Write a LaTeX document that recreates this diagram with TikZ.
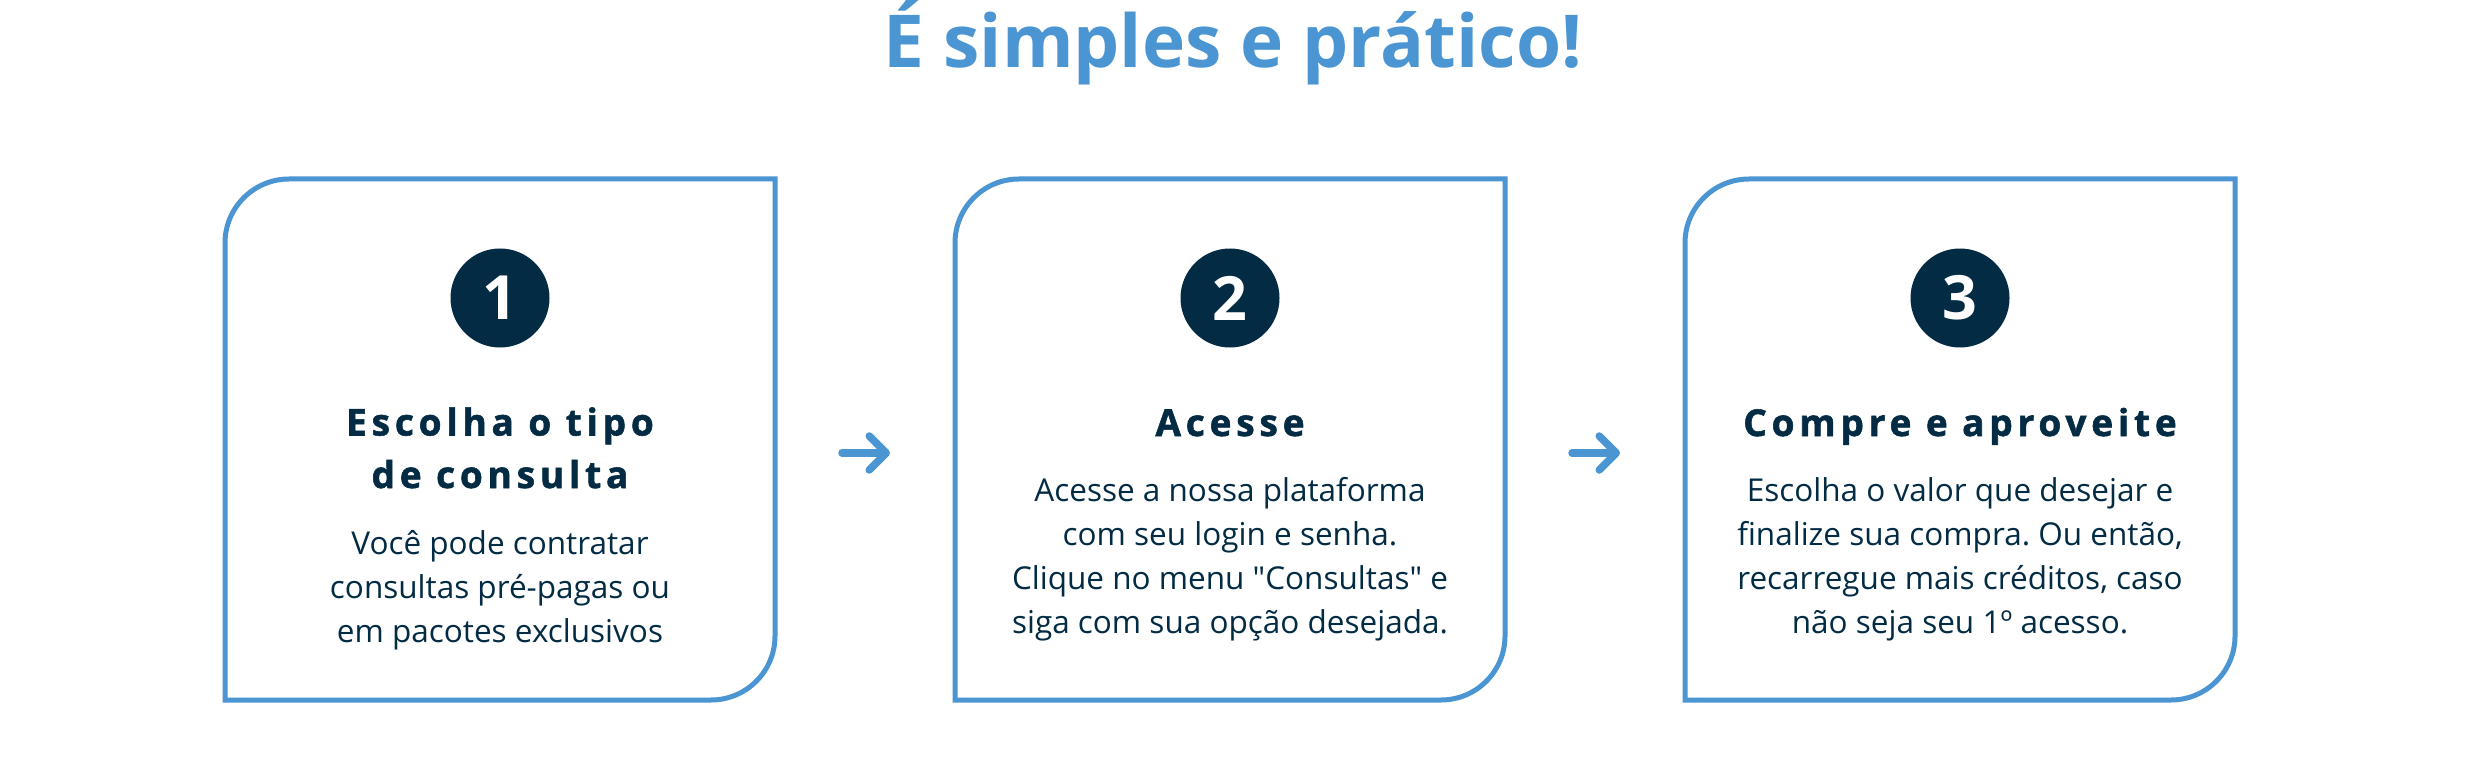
\documentclass[tikz,border=0pt]{standalone}
\usepackage{fontspec}
\setmainfont{Open Sans}[Ligatures=TeXOff]
\usepackage{tikz}
\usetikzlibrary{arrows.meta,positioning}
\newfontfamily\headfont{Open Sans}[LetterSpace=13, BoldFeatures={FakeBold=1.5}]
\definecolor{StepBlue}{RGB}{75,150,210}
\definecolor{StepNavy}{RGB}{3,44,68}
\frenchspacing

\begin{document}
\begin{tikzpicture}[
    x=1pt, y=1pt,
    node distance=180pt,
    card/.style={minimum width=550pt, minimum height=521pt, inner sep=0pt, outer sep=0pt},
    cardline/.style={draw=StepBlue, line width=5pt},
    numdot/.style={circle, fill=StepNavy, text=white, minimum size=99pt, inner sep=0pt, font=\fontsize{61}{61}\selectfont\bfseries},
    heading/.style={anchor=base, align=center, text=StepNavy, inner sep=0pt, font=\headfont\fontsize{37}{52.5}\selectfont\bfseries},
    bodytext/.style={anchor=base, align=center, text=StepNavy, inner sep=0pt, font=\fontsize{31.5}{44}\selectfont},
    title/.style={anchor=base, text=StepBlue, inner sep=0pt, font=\fontsize{73}{80}\selectfont\bfseries},
    flow/.style={StepBlue, line width=7.5pt, line cap=round, -{Straight Barb[length=17pt, width=34pt, round]}, shorten <=67pt, shorten >=65pt}
]
    \fill[white] (0,0) rectangle (2470,-767);
    \useasboundingbox (0,0) rectangle (2470,-767);

    \node[title] (title) at (1233,-68) {É simples e prático!};

    \node[card] (card1) at (500,-439.5) {};
    \node[card, right=of card1] (card2) {};
    \node[card, right=of card2] (card3) {};

    \foreach \c in {card1,card2,card3}
        \draw[cardline] (\c.south west) -- ([yshift=-64pt]\c.north west)
            arc[start angle=180, end angle=90, radius=64pt] -- (\c.north east)
            -- ([yshift=64pt]\c.south east)
            arc[start angle=0, end angle=-90, radius=64pt] -- cycle;

    \node[numdot] (num1) at ([yshift=-119pt]card1.north) {1};
    \node[numdot] (num2) at ([yshift=-119pt]card2.north) {2};
    \node[numdot] (num3) at ([yshift=-119pt]card3.north) {3};

    \node[heading] (head1) at ([yshift=-309pt]card1.north) {Escolha o tipo\\de consulta};
    \node[heading] (head2) at ([yshift=-257pt]card2.north) {Acesse};
    \node[heading] (head3) at ([yshift=-257pt]card3.north) {Compre e aproveite};

    \node[bodytext] (body1) at ([yshift=-463pt]card1.north) {Você pode contratar\\consultas pré-pagas ou\\em pacotes exclusivos};
    \node[bodytext] (body2) at ([yshift=-454pt]card2.north) {Acesse a nossa plataforma\\com seu login e senha.\\Clique no menu "Consultas" e\\siga com sua opção desejada.};
    \node[bodytext] (body3) at ([yshift=-454pt]card3.north) {Escolha o valor que desejar e\\finalize sua compra. Ou então,\\recarregue mais créditos, caso\\não seja seu 1º acesso.};

    \draw[flow] ([yshift=-13.5pt]card1.east) -- ([yshift=-13.5pt]card2.west);
    \draw[flow] ([yshift=-13.5pt]card2.east) -- ([yshift=-13.5pt]card3.west);
\end{tikzpicture}
\end{document}
